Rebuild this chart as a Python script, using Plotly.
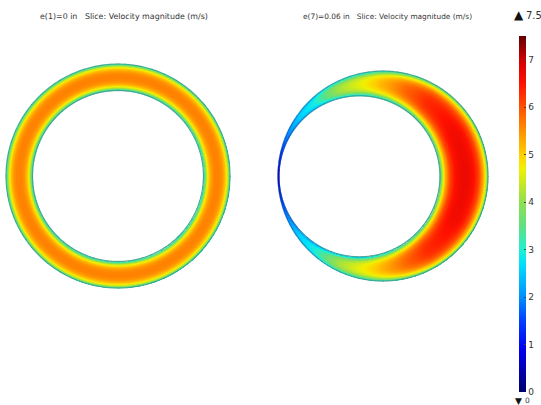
import numpy as np
import plotly.graph_objects as go

# --- values ---
speed_ticks = [0, 1, 2, 3, 4, 5, 6, 7]
speed_min, speed_max = 0, 7.5
color_speeds = [0, 0.4, 0.9, 1.5, 2.0, 2.7, 3.0, 3.5, 4.0, 4.7, 5.0, 5.5, 6.0, 6.5, 7.0, 7.5]
color_values = ["#00006e", "#0000a8", "#0000f0", "#0040ff", "#0090ff", "#00e0ff", "#20f0d0",
                "#60e080", "#90e050", "#f0f000", "#ffd000", "#ff9000", "#ff5000", "#ff1000",
                "#d00000", "#600000"]

# share of the local peak speed, across the gap (0 = wall, 0.5 = mid-gap)
gap_share = [0, 0.05, 0.1, 0.2, 0.3, 0.4, 0.5]
speed_share = [0.52, 0.66, 0.78, 0.91, 0.97, 0.995, 1.0]

# round each annulus (angle from the +x direction, degrees)
peak_angle = [0, 30, 60, 75, 90, 100, 118, 133, 145, 160, 172, 180]
peak_concentric = [5.62] * len(peak_angle)
peak_eccentric = [6.7, 6.65, 6.3, 5.85, 5.25, 4.8, 4.1, 2.95, 2.55, 1.8, 1.0, 0.6]
# how much of the wall-to-centre drop shows at each angle (the thin side is flatter)
profile_depth = [1, 1, 1, 1, 1, 1, 0.85, 0.6, 0.5, 0.5, 0.5, 0.5]

# wall line colours
edge_angle = [0, 100, 125, 145, 165, 180]
edge_concentric = ["#3fa58c"] * 6
edge_eccentric = ["#3fa58c", "#3fa58c", "#2aa5a8", "#1f8fc0", "#1050c8", "#0a10b0"]

# --- geometry (page units) ---
left = dict(cx=118, cy=176, R=112, icx=118, icy=176, r=85.5)
right = dict(cx=383, cy=176, R=105, icx=359.5, icy=176.3, r=80.5)


def field(g, peak, depth):
    xs = np.arange(g["cx"] - g["R"] - 1, g["cx"] + g["R"] + 1.01, 0.5)
    ys = np.arange(g["cy"] - g["R"] - 1, g["cy"] + g["R"] + 1.01, 0.5)
    X, Y = np.meshgrid(xs, ys)
    do = np.hypot(X - g["cx"], Y - g["cy"])
    di = np.hypot(X - g["icx"], Y - g["icy"])
    a, b = di - g["r"], g["R"] - do
    s = np.clip(a / np.maximum(a + b, 1e-6), 0, 1)
    s = np.minimum(s, 1 - s)
    th = np.degrees(np.abs(np.arctan2(Y - g["cy"], X - g["cx"])))
    share = 1 - (1 - np.interp(s, gap_share, speed_share)) * np.interp(th, peak_angle, depth)
    z = np.interp(th, peak_angle, peak) * share
    z[(a < 0) | (b < 0)] = np.nan
    return xs, ys, z


def edge_rgb(th, colors):
    rgb = np.array([[int(c[i:i + 2], 16) for i in (1, 3, 5)] for c in colors], float)
    chans = [np.interp(th, edge_angle, rgb[:, k]) for k in range(3)]
    return [f"rgb({r:.0f},{g:.0f},{b:.0f})" for r, g, b in zip(*chans)]


fig = go.Figure()
rings = ((left, peak_concentric, [1] * len(peak_angle), edge_concentric),
         (right, peak_eccentric, profile_depth, edge_eccentric))
for g, peak, depth, edges in rings:
    xs, ys, z = field(g, peak, depth)
    fig.add_trace(go.Heatmap(x=xs, y=ys, z=z, coloraxis="coloraxis", hoverinfo="skip"))
    for cx, cy, r in ((g["cx"], g["cy"], g["R"]), (g["icx"], g["icy"], g["r"])):
        t = np.radians(np.arange(0, 360, 0.5))
        x, y = cx + r * np.cos(t), cy + r * np.sin(t)
        th = np.degrees(np.abs(np.arctan2(y - g["cy"], x - g["cx"])))
        fig.add_trace(go.Scatter(x=x, y=y, mode="markers", hoverinfo="skip", showlegend=False,
                                 marker=dict(size=1.3, color=edge_rgb(th, edges), line_width=0)))

cs = [[(v - speed_min) / (speed_max - speed_min), c] for v, c in zip(color_speeds, color_values)]
fig.update_layout(
    width=541, height=405, margin=dict(l=0, r=0, t=0, b=0),
    paper_bgcolor="white", plot_bgcolor="white", showlegend=False,
    font=dict(family="DejaVu Sans", color="#333333"),
    xaxis=dict(range=[0, 541], visible=False, fixedrange=True),
    yaxis=dict(range=[405, 0], visible=False, fixedrange=True),
    coloraxis=dict(
        cmin=speed_min, cmax=speed_max, colorscale=cs,
        colorbar=dict(
            x=519 / 541, xanchor="left", xpad=0, ypad=0,
            y=(405 - 392) / 405, yanchor="bottom",
            thickness=7, thicknessmode="pixels", len=356, lenmode="pixels",
            tickvals=speed_ticks, ticks="inside", ticklen=2, tickcolor="#444444",
            outlinewidth=0, tickfont=dict(size=9, color="#333333", family="DejaVu Sans"),
        ),
    ),
    annotations=[
        dict(x=123.5, y=16, text="e(1)=0 in   Slice: Velocity magnitude (m/s)", showarrow=False,
             font=dict(size=7.9), xanchor="center", yanchor="middle"),
        dict(x=387.5, y=16, text="e(7)=0.06 in   Slice: Velocity magnitude (m/s)", showarrow=False,
             font=dict(size=7.4), xanchor="center", yanchor="middle"),
        dict(x=518.5, y=15, text="▲", showarrow=False, font=dict(size=12, color="#111111"),
             xanchor="center", yanchor="middle"),
        dict(x=526, y=15, text="7.5", showarrow=False, font=dict(size=10), xanchor="left", yanchor="middle", xshift=-2),
        dict(x=518.5, y=401, text="▼", showarrow=False, font=dict(size=9, color="#111111"),
             xanchor="center", yanchor="middle", borderpad=0),
        dict(x=526, y=400.5, text="0", showarrow=False, font=dict(size=7.5), xanchor="left", yanchor="middle", xshift=-2, borderpad=0),
    ],
)
fig.write_html("out.html", config=dict(displayModeBar=False),
               post_script="document.body.style.margin='0';")
